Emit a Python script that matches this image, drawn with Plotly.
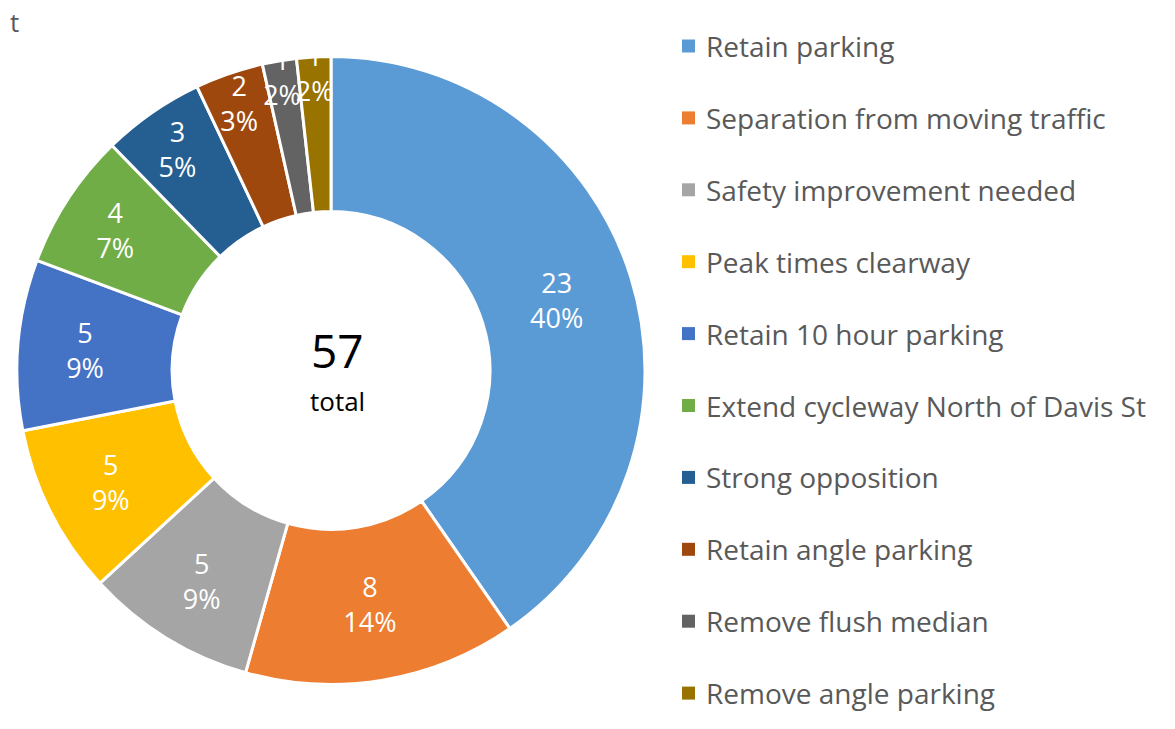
import plotly.graph_objects as go

categories = ["Retain parking", "Separation from moving traffic", "Safety improvement needed",
              "Peak times clearway", "Retain 10 hour parking", "Extend cycleway North of Davis St",
              "Strong opposition", "Retain angle parking", "Remove flush median", "Remove angle parking"]
values = [23, 8, 5, 5, 5, 4, 3, 2, 1, 1]
pct_labels = ["40%", "14%", "9%", "9%", "9%", "7%", "5%", "3%", "2%", "2%"]
colors = ["#5B9BD5", "#ED7D31", "#A5A5A5", "#FFC000", "#4472C4",
          "#70AD47", "#255E91", "#9E480E", "#636363", "#997300"]
total = sum(values)

W, H = 1175, 729
OFF = 8  # page body margin
FONT = "Open Sans"


def px(x):
    return (x - OFF) / W


def py(y):
    return 1 - (y - OFF) / H


texts = [f"{v}<br>{p}" for v, p in zip(values, pct_labels)]

fig = go.Figure(go.Pie(
    labels=categories, values=values, text=texts, textinfo="text",
    sort=False, direction="clockwise", rotation=0, hole=0.506,
    marker=dict(colors=colors, line=dict(color="white", width=3)),
    textposition="inside", insidetextorientation="horizontal",
    textfont=dict(color="white", size=27, family=FONT),
    domain=dict(x=[px(17), px(645)], y=[py(685), py(56)]),
    showlegend=False, hoverinfo="label+value+percent",
))

annotations = [
    dict(text=str(total), x=px(337), y=py(350), xref="paper", yref="paper",
         xanchor="center", yanchor="middle",
         showarrow=False, font=dict(size=46, color="black", family=FONT)),
    dict(text="total", x=px(337), y=py(401), xref="paper", yref="paper",
         xanchor="center", yanchor="middle",
         showarrow=False, font=dict(size=26, color="black", family=FONT)),
    dict(text="t", x=0, y=py(22), xref="paper", yref="paper", xanchor="left",
         yanchor="middle", showarrow=False, font=dict(size=26, color="#595959", family=FONT)),
]
shapes = []
y0, dy = 46, 71.9
for i, (c, col) in enumerate(zip(categories, colors)):
    yc = y0 + i * dy
    shapes.append(dict(type="rect", xref="paper", yref="paper",
                       x0=px(682), x1=px(695), y0=py(yc + 6.5), y1=py(yc - 6.5),
                       fillcolor=col, line=dict(width=0)))
    annotations.append(dict(text=c, x=px(704), y=py(yc), xref="paper", yref="paper",
                            xanchor="left", yanchor="middle", showarrow=False,
                            font=dict(size=28, color="#595959", family=FONT)))

fig.update_layout(
    width=W, height=H, margin=dict(l=0, r=0, t=0, b=0),
    paper_bgcolor="white", plot_bgcolor="white",
    annotations=annotations, shapes=shapes,
    uniformtext=dict(minsize=27, mode="show"),
)
fig.write_html("out.html")
